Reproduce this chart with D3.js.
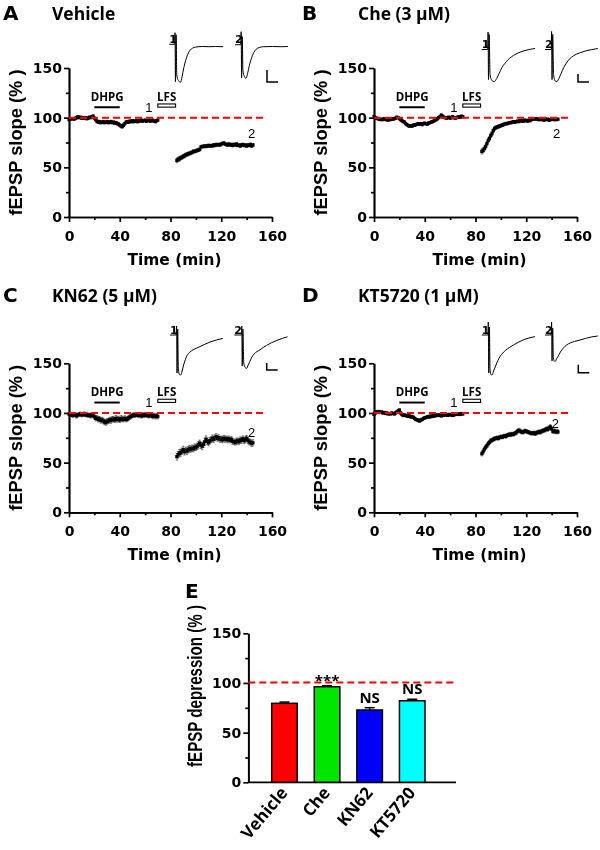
<!DOCTYPE html>
<html><head><meta charset="utf-8">
<script src="https://cdn.jsdelivr.net/npm/d3@7"></script>
<style>body{margin:0;background:#fff}svg{display:block;will-change:transform}</style>
</head><body>
<svg id="c" width="600" height="850"></svg>
<script>
// ---------------- DATA ----------------
const xTicks = [0, 40, 80, 120, 160];
const xMinor = [20, 60, 100, 140];
const yTicks = [0, 50, 100, 150];
const yMinor = [25, 75, 125];
const dhpgWindow = [20, 40];
const lfsWindow = [70, 84];
const refLineRange = [0, 155];
const baseStart = 0;   // min, 1-min sampling
const postStart = 85;  // min, 1-min sampling

const vehicleBase = [98,98.5,99,99,98.5,99.5,100,101,100,100.5, 99.5,100,99.5,100,99,99.5,100.5,100,101,101.5, 99.5,98,96.5,95.5,96,95,95.5,96,95,95.5, 96,95,95.5,96,95,95.5,94.5,95,94,93.5, 92.5,91.5,91,92.5,94,95.5,96,95.5,96.5,96, 97,96,96.5,97,96,97,96.5,97.5,96.5,97, 97.5,96.5,97,97.5,96.5,97,97.5,96.5,96,97, 97.5];
const vehiclePost = [57,58,58.5,59.5,60,61,61.5,62.5,63,63.5, 64,64.5,65,66,66,66.5,67,67.5,68,70.5, 71,71,71.5,71,71.5,72,71.5,72,71.5,72.5, 72,73,72.5,73,72.5,73.5,74,74.5,73.5,73, 72.5,73.5,72.5,73,72,73,72.5,73.5,72,72.5, 71.5,72.5,73,72,72.5,71.5,72.5,72,73,71.5, 72.5];
const vehicleBaseSem = [1.2,1.0,0.9,1.1,1.0,0.9,1.2,1.1,1.0,0.9, 1.0,1.1,0.9,1.0,1.2,1.0,0.9,1.1,1.2,1.3, 1.1,1.2,1.3,1.2,1.4,1.3,1.2,1.4,1.3,1.2, 1.4,1.3,1.5,1.4,1.3,1.4,1.5,1.4,1.6,1.5, 1.6,1.7,1.6,1.5,1.4,1.3,1.4,1.2,1.3,1.2, 1.1,1.2,1.3,1.1,1.2,1.0,1.1,1.2,1.0,1.1, 1.2,1.0,1.1,1.2,1.0,1.1,0.9,1.0,1.1,1.2, 1.0];
const vehiclePostSem = [2.4,2.2,2.3,2.0,2.1,1.9,2.0,1.8,1.9,1.8, 1.7,1.8,1.6,1.7,1.6,1.5,1.6,1.5,1.6,1.4, 1.5,1.4,1.3,1.4,1.3,1.4,1.3,1.2,1.3,1.4, 1.3,1.2,1.3,1.4,1.3,1.2,1.3,1.4,1.2,1.3, 1.4,1.3,1.2,1.4,1.3,1.5,1.3,1.4,1.2,1.3, 1.4,1.5,1.3,1.4,1.3,1.5,1.4,1.3,1.5,1.4, 1.5];

const cheBase = [101,100,99.5,99,98.5,98,98.5,98,99,98.5, 98,97.5,98.5,98,99,98.5,99,99.5,100.5,100, 99,98,97,96,95.5,94,93,92,91.5,92, 91.5,92.5,92.5,93,93.5,94,93.5,94,93,94, 94.5,94,93.5,94.5,95,95.5,96,96.5,97.5,98, 99,100,101,102.5,101.5,100.5,100,99.5,100,100.5, 99.5,100,101,100,99.5,100,100.5,101,100.5,101.5, 101];
const chePost = [66,67,69,71,74,77,79,82,84,87, 89,90,90.5,91,91.5,92,92.5,93,93.5,94, 94,94.5,95,95,95.5,96,95.5,96,96.5,96, 97,96.5,97,96.5,97.5,97,96.5,97.5,97,98, 98.5,99,98.5,99,98.5,98,98.5,98,98.5,97.5, 98.5,98,98.5,97.5,98,99,98.5,98,98.5,98, 98.5];
const cheBaseSem = [0.9,1.0,0.8,0.9,1.0,0.8,0.9,1.0,0.9,0.8, 1.0,0.9,0.8,1.0,0.9,0.8,0.9,1.0,0.9,1.1, 1.0,1.1,1.2,1.1,1.2,1.3,1.2,1.1,1.3,1.2, 1.1,1.2,1.3,1.2,1.1,1.2,1.0,1.1,1.2,1.1, 1.0,1.1,1.2,1.0,1.1,1.0,1.1,0.9,1.0,1.1, 1.2,1.0,1.1,1.3,1.1,1.0,0.9,1.0,1.1,0.9, 1.0,0.9,1.1,1.0,0.9,1.0,1.1,0.9,1.0,1.1, 1.0];
const chePostSem = [2.6,2.4,2.5,2.3,2.2,2.4,2.1,2.0,2.2,1.9, 1.8,1.7,1.6,1.7,1.5,1.6,1.4,1.5,1.3,1.4, 1.3,1.2,1.3,1.2,1.1,1.2,1.1,1.2,1.0,1.1, 1.2,1.0,1.1,1.0,1.1,1.0,0.9,1.0,1.1,1.0, 0.9,1.0,1.1,0.9,1.0,1.1,1.0,0.9,1.0,1.1, 1.0,0.9,1.0,1.1,1.0,0.9,1.0,1.1,1.0,0.9, 1.0];

const kn62Base = [99,98,98.5,97.5,98,98.5,97,98,98.5,99, 98,98.5,99,98,98.5,97.5,98,97,98.5,97.5, 96,94.5,95,93.5,94,92.5,93,92,91,90.5, 91.5,92,93,92.5,93.5,94,93,94.5,93.5,94, 93,94.5,94,93.5,94.5,93.5,94,95,96,96.5, 97.5,98,97.5,98.5,98,97.5,98.5,97,98,97.5, 98.5,97.5,98,97,98,97.5,96.5,97.5,96.5,97, 96.5];
const kn62Post = [56,58,59.5,60,61.5,63,61,62.5,61.5,63, 64,63.5,64.5,64,65.5,65,66.5,68,69.5,67.5, 66.5,68.5,71,73.5,71.5,70,72,73,74.5,73.5, 75,76,74.5,75,73.5,74,73,74.5,73.5,74, 73,74,72.5,73.5,71.5,71,70.5,71.5,72,71, 73,72.5,74,72,73.5,74.5,72.5,71,70.5,69.5, 70];
const kn62BaseSem = [1.6,1.8,1.7,2.0,1.9,1.8,2.1,1.9,2.0,1.8, 1.9,2.1,2.0,1.8,2.2,2.0,1.9,2.1,2.0,2.2, 2.3,2.5,2.4,2.6,2.5,2.7,2.6,2.8,2.7,2.9, 2.8,2.6,2.7,2.9,2.8,2.6,2.7,2.9,2.8,2.7, 2.6,2.8,2.7,2.5,2.6,2.4,2.5,2.3,2.4,2.2, 2.1,2.3,2.2,2.0,2.1,2.2,2.0,2.1,2.3,2.2, 2.1,2.0,2.2,2.1,2.3,2.2,2.4,2.3,2.5,2.4, 2.5];
const kn62PostSem = [3.5,3.3,3.6,3.4,3.2,3.5,3.3,3.1,3.4,3.2, 3.3,3.0,3.2,3.1,3.3,3.0,3.2,3.4,3.1,3.3, 3.5,3.2,3.6,3.4,3.3,3.1,3.2,3.0,3.3,3.1, 3.0,3.2,2.9,3.1,3.0,2.8,3.0,2.9,3.1,2.8, 3.0,2.9,2.7,2.9,3.0,2.8,2.9,3.1,2.8,3.0, 2.9,3.1,2.8,3.0,3.2,2.9,3.1,3.0,2.9,3.1, 3.0];

const kt5720Base = [98.5,100,101,101.5,101,100.5,101,100,100.5,99.5, 100,99,99.5,99,100,99.5,99,100,101,102, 103,100,98.5,97.5,98,97.5,97,96.5,97,96, 96.5,95.5,94.5,93.5,93,92.5,92,93,93.5,94.5, 95,95.5,96,96.5,96,97,96.5,97.5,97,97.5, 98,97.5,98,97,98,97.5,98.5,98,97.5,98.5, 98,98.5,97.5,98,98.5,99,98.5,99,98.5,99.5, 99];
const kt5720Post = [59,61,63.5,65.5,67,69,70.5,72,72.5,73.5, 74,74.5,75,74.5,75.5,76,75.5,76.5,77,76.5, 77.5,78,78.5,78,79,78.5,79.5,80,81.5,82.5, 82,81,80.5,81,82,81.5,81,80.5,80,79.5, 79.5,80,79,80,80.5,81,80.5,81.5,82,82.5, 83,84,83.5,85,86,84,81.5,82,81,81.5, 81];
const kt5720BaseSem = [1.0,1.1,0.9,1.0,1.2,1.1,1.0,0.9,1.1,1.0, 1.2,1.0,1.1,0.9,1.0,1.1,1.0,1.2,1.1,1.3, 1.2,1.1,1.2,1.3,1.1,1.2,1.3,1.2,1.4,1.3, 1.2,1.3,1.4,1.3,1.5,1.4,1.3,1.4,1.3,1.2, 1.3,1.2,1.1,1.2,1.3,1.1,1.2,1.0,1.1,1.2, 1.0,1.1,1.2,1.0,1.1,1.0,0.9,1.1,1.0,1.2, 1.1,1.0,1.1,0.9,1.0,1.1,1.0,1.2,1.1,1.0, 1.1];
const kt5720PostSem = [2.2,2.4,2.1,2.3,2.0,2.2,1.9,2.1,1.8,2.0, 1.9,1.7,1.8,1.9,1.7,1.8,1.6,1.8,1.7,1.9, 1.8,1.7,1.9,1.8,1.6,1.8,1.7,1.9,1.8,2.0, 1.9,1.8,1.7,1.9,1.8,1.7,1.8,1.6,1.8,1.7, 1.9,1.8,1.7,1.9,1.8,2.0,1.9,1.8,2.0,1.9, 2.1,2.0,1.9,2.1,2.2,2.0,2.1,1.9,2.0,2.1, 2.0];

// sample fEPSP traces: [ms, mV]
const vehicleTrace1 = [[0,0.12],[2.4,0.12],[2.6,0.7],[2.8,-1.75],[3.1,0.6],[3.4,-1.4],[4.2,-1.7],[5.1,-1.78],[5.8,-1.5],[6.6,-1.05],[7.4,-0.7],[8.4,-0.38],[9.4,-0.18],[10.6,-0.07],[12,-0.02],[15,0.01],[18,0],[21,0.01],[24.5,0]];
const vehicleTrace2 = [[0,0.1],[2.6,0.1],[2.8,0.75],[3.0,-1.55],[3.3,0.5],[3.6,-1.2],[4.3,-1.5],[5.0,-1.58],[5.7,-1.35],[6.5,-0.95],[7.4,-0.6],[8.5,-0.3],[9.6,-0.13],[11,-0.04],[13,0],[17,0.01],[21,0],[24,0.01]];
const cheTrace1 = [[0,-0.05],[2.7,-0.05],[2.9,0.82],[3.1,-1.55],[3.4,0.7],[3.8,-1.3],[4.8,-1.62],[5.8,-1.65],[6.8,-1.5],[7.9,-1.25],[9.2,-0.95],[10.5,-0.75],[11.8,-0.58],[13.5,-0.42],[15.5,-0.28],[17.5,-0.18],[19.7,-0.1],[22,-0.04],[24.2,0]];
const cheTrace2 = [[0,-0.05],[2.8,-0.05],[3.0,0.85],[3.2,-1.55],[3.5,0.7],[3.9,-1.3],[4.6,-1.62],[5.4,-1.65],[6.3,-1.5],[7.3,-1.25],[8.5,-0.95],[9.8,-0.72],[11.2,-0.52],[13,-0.36],[15.8,-0.22],[18.5,-0.12],[21,-0.06],[24,0]];
const kn62Trace1 = [[0,0],[2.8,0],[3.0,0.45],[3.2,-1.9],[3.5,0.3],[3.8,-1.7],[4.3,-1.98],[4.9,-2.0],[5.5,-1.8],[6.2,-1.5],[7.0,-1.22],[7.8,-1.02],[9,-0.86],[10.5,-0.74],[12,-0.66],[13.6,-0.58],[15.5,-0.48],[18.2,-0.35],[21,-0.25],[24,-0.17]];
const kn62Trace2 = [[0,0],[3.2,0],[3.4,0.45],[3.6,-1.55],[3.9,0.3],[4.3,-1.4],[4.9,-1.62],[5.6,-1.67],[6.3,-1.5],[7.1,-1.32],[8.0,-1.1],[9,-0.95],[10.3,-0.83],[11.7,-0.74],[13.2,-0.62],[14.7,-0.52],[17,-0.38],[19.4,-0.27],[22,-0.16],[24.2,-0.09]];
const kt5720Trace1 = [[0,0],[2.8,0],[3.0,0.65],[3.2,-1.9],[3.5,0.4],[3.8,-1.75],[4.2,-1.98],[4.7,-2.0],[5.4,-1.8],[6.5,-1.5],[7.4,-1.27],[8.3,-1.08],[9.6,-0.9],[11,-0.75],[12.7,-0.62],[14.4,-0.5],[16.5,-0.37],[18.8,-0.25],[21.5,-0.15],[24.2,-0.08]];
const kt5720Trace2 = [[0,0],[2.8,0],[3.0,0.65],[3.2,-1.3],[3.5,0.35],[3.8,-1.15],[4.2,-1.3],[4.6,-1.33],[5.2,-1.2],[5.9,-1.08],[7,-0.85],[8.3,-0.66],[9.8,-0.5],[11.4,-0.4],[13.5,-0.32],[15.9,-0.25],[18.5,-0.17],[21,-0.1],[24,-0.05]];
const scaleBarMs = 5;
const scaleBarMV = [0.6, 0.4, 0.35, 0.4];

const panelLetters = ["A", "B", "C", "D"];
const panelTitles = ["Vehicle", "Che (3 μM)", "KN62 (5 μM)", "KT5720 (1 μM)"];
const label1Pos = [63, 106];               // [min, %]
const label2Pos = [[144, 80], [144, 80], [144, 76], [143, 84.5]];

// Panel E
const groups = ["Vehicle", "Che", "KN62", "KT5720"];
const depression = [79.5, 96.2, 72.8, 82.1];
const depressionSem = [1.3, 1.0, 2.3, 1.5];
const significance = ["", "***", "NS", "NS"];
const barColors = ["#ff0000", "#00e600", "#0000ff", "#00ffff"];

// ---------------- LAYOUT ----------------
const layout = [
  {left:69,  right:272, top:68,    bottom:217,   letter:[3,20],   title:[52,20],   t1:[169.3,46.7], t2:[235,46.7],   sb:[267,82]},
  {left:374, right:577, top:68,    bottom:217,   letter:[302,20], title:[358,20],  t1:[481.7,48.5], t2:[545,48.5],   sb:[578,82]},
  {left:69,  right:272, top:363.3, bottom:512.3, letter:[3,302],  title:[52,302],  t1:[170,335],    t2:[234.3,335],  sb:[266.7,370]},
  {left:374, right:577, top:363.3, bottom:512.3, letter:[302,302],title:[358,302], t1:[481.7,335],  t2:[545,335],    sb:[578.3,372.7]}
];
const panels = [
  {base:vehicleBase, baseSem:vehicleBaseSem, post:vehiclePost, postSem:vehiclePostSem, tr1:vehicleTrace1, tr2:vehicleTrace2},
  {base:cheBase, baseSem:cheBaseSem, post:chePost, postSem:chePostSem, tr1:cheTrace1, tr2:cheTrace2},
  {base:kn62Base, baseSem:kn62BaseSem, post:kn62Post, postSem:kn62PostSem, tr1:kn62Trace1, tr2:kn62Trace2},
  {base:kt5720Base, baseSem:kt5720BaseSem, post:kt5720Post, postSem:kt5720PostSem, tr1:kt5720Trace1, tr2:kt5720Trace2}
];

const NUM = "'DejaVu Sans', sans-serif";
const ROT = "'Liberation Sans', Arial, sans-serif";
const HUM = "'Open Sans', sans-serif";
const svg = d3.select("#c");
const pxPerMs = 2.2, pxPerMV = 20;

function styleAxis(sel, w) {
  sel.select(".domain").attr("stroke", "#000").attr("stroke-width", w);
  sel.selectAll(".tick line").attr("stroke", "#000").attr("stroke-width", w);
  sel.selectAll(".tick text").attr("font-family", NUM).attr("font-weight", "bold").attr("font-size", 14).attr("fill", "#000");
}

function drawPanel(i) {
  const P = panels[i], L = layout[i];
  const g = svg.append("g");
  const x = d3.scaleLinear().domain([0, 160]).range([L.left, L.right]);
  const y = d3.scaleLinear().domain([0, 150]).range([L.bottom, L.top]);

  // axes
  g.append("g").attr("transform", `translate(0,${L.bottom})`)
    .call(d3.axisBottom(x).tickValues(xMinor).tickSize(3).tickSizeOuter(0).tickFormat(""))
    .call(s => styleAxis(s, 1.7));
  g.append("g").attr("transform", `translate(0,${L.bottom})`)
    .call(d3.axisBottom(x).tickValues(xTicks).tickSize(5).tickSizeOuter(0).tickPadding(9))
    .call(s => styleAxis(s, 1.7));
  g.append("g").attr("transform", `translate(${L.left},0)`)
    .call(d3.axisLeft(y).tickValues(yMinor).tickSize(3).tickSizeOuter(0).tickFormat(""))
    .call(s => styleAxis(s, 1.7));
  g.append("g").attr("transform", `translate(${L.left},0)`)
    .call(d3.axisLeft(y).tickValues(yTicks).tickSize(5).tickSizeOuter(0).tickPadding(2))
    .call(s => styleAxis(s, 1.7));

  // axis titles
  g.append("text").attr("x", (L.left + L.right) / 2 + 4).attr("y", L.bottom + 48)
    .attr("text-anchor", "middle").attr("font-family", NUM).attr("font-weight", "bold").attr("font-size", 15.5)
    .attr("textLength", 94).attr("lengthAdjust", "spacingAndGlyphs")
    .text("Time (min)");
  g.append("text").attr("transform", `translate(${L.left - 53.5},${(L.top + L.bottom) / 2}) rotate(-90)`)
    .attr("text-anchor", "middle").attr("dominant-baseline", "central")
    .attr("font-family", ROT).attr("font-weight", "bold").attr("font-size", 19)
    .attr("textLength", 146).attr("lengthAdjust", "spacingAndGlyphs")
    .text("fEPSP slope (% )");

  // panel letter + title
  g.append("text").attr("x", L.letter[0]).attr("y", L.letter[1]).attr("font-family", NUM).attr("font-weight", "bold").attr("font-size", 20).text(panelLetters[i]);
  g.append("text").attr("x", L.title[0]).attr("y", L.title[1]).attr("font-family", HUM).attr("font-weight", "bold").attr("font-size", 17.5).text(panelTitles[i]);

  // data points
  const pts = P.base.map((v, k) => ({t: baseStart + k, v, s: P.baseSem[k]}))
    .concat(P.post.map((v, k) => ({t: postStart + k, v, s: P.postSem[k]})));
  const eb = g.append("g").attr("stroke", "#444").attr("stroke-width", 0.7);
  pts.forEach(d => {
    eb.append("line").attr("x1", x(d.t)).attr("x2", x(d.t)).attr("y1", y(d.v - d.s)).attr("y2", y(d.v + d.s));
    eb.append("line").attr("x1", x(d.t) - 1.2).attr("x2", x(d.t) + 1.2).attr("y1", y(d.v + d.s)).attr("y2", y(d.v + d.s));
    eb.append("line").attr("x1", x(d.t) - 1.2).attr("x2", x(d.t) + 1.2).attr("y1", y(d.v - d.s)).attr("y2", y(d.v - d.s));
  });
  g.append("g").selectAll("rect").data(pts).join("rect")
    .attr("x", d => x(d.t) - 1.6).attr("y", d => y(d.v) - 1.6).attr("width", 3.2).attr("height", 3.2).attr("fill", "#000");

  // reference line
  g.append("line").attr("x1", x(refLineRange[0])).attr("x2", x(refLineRange[1])).attr("y1", y(100)).attr("y2", y(100))
    .attr("stroke", "#ff0000").attr("stroke-width", 2).attr("stroke-dasharray", "7,4");

  // DHPG bar + LFS box
  g.append("line").attr("x1", x(dhpgWindow[0])).attr("x2", x(dhpgWindow[1])).attr("y1", y(110.5)).attr("y2", y(110.5))
    .attr("stroke", "#000").attr("stroke-width", 2);
  g.append("text").attr("x", x((dhpgWindow[0] + dhpgWindow[1]) / 2)).attr("y", y(117)).attr("text-anchor", "middle")
    .attr("font-family", HUM).attr("font-weight", "bold").attr("font-size", 11.5).text("DHPG");
  g.append("rect").attr("x", x(lfsWindow[0])).attr("y", y(113.8)).attr("width", x(lfsWindow[1]) - x(lfsWindow[0])).attr("height", y(110.6) - y(113.8))
    .attr("fill", "#fff").attr("stroke", "#000").attr("stroke-width", 1.1);
  g.append("text").attr("x", x((lfsWindow[0] + lfsWindow[1]) / 2)).attr("y", y(116.8)).attr("text-anchor", "middle")
    .attr("font-family", HUM).attr("font-weight", "bold").attr("font-size", 11.5).text("LFS");
  g.append("text").attr("x", x(label1Pos[0])).attr("y", y(label1Pos[1])).attr("text-anchor", "middle")
    .attr("font-family", ROT).attr("font-size", 13).attr("fill", "#000").text("1");
  g.append("text").attr("x", x(label2Pos[i][0])).attr("y", y(label2Pos[i][1])).attr("text-anchor", "middle")
    .attr("font-family", ROT).attr("font-size", 13).attr("fill", "#000").text("2");

  // traces
  [[P.tr1, L.t1, "1"], [P.tr2, L.t2, "2"]].forEach(([tr, o, lab]) => {
    const tx = d3.scaleLinear().domain([0, 1]).range([o[0], o[0] + pxPerMs]);
    const ty = d3.scaleLinear().domain([0, 1]).range([o[1], o[1] - pxPerMV]);
    g.append("path").attr("d", d3.line().x(d => tx(d[0])).y(d => ty(d[1])).curve(d3.curveMonotoneX)(tr))
      .attr("fill", "none").attr("stroke", "#000").attr("stroke-width", 1);
    g.append("text").attr("x", tx(0)).attr("y", ty(tr[0][1]) - 1.5).attr("font-family", NUM).attr("font-weight", "bold")
      .attr("font-size", 11).text(lab);
  });
  // scale bar
  const sx = d3.scaleLinear().domain([0, 1]).range([L.sb[0], L.sb[0] + pxPerMs]);
  const sy = d3.scaleLinear().domain([0, 1]).range([L.sb[1], L.sb[1] - pxPerMV]);
  g.append("path").attr("d", `M${sx(0)},${sy(scaleBarMV[i])}L${sx(0)},${sy(0)}L${sx(scaleBarMs)},${sy(0)}`)
    .attr("fill", "none").attr("stroke", "#000").attr("stroke-width", 1.5);
}
[0, 1, 2, 3].forEach(drawPanel);

// ---------------- PANEL E ----------------
(function () {
  const E = {axisX: 248.3, axisRight: 456, top: 633.3, bottom: 782.3};
  const g = svg.append("g");
  const x = d3.scaleBand().domain(groups).range([271.7, 425]).paddingInner(0.4).paddingOuter(0);
  const y = d3.scaleLinear().domain([0, 150]).range([E.bottom, E.top]);
  g.append("g").attr("transform", `translate(${E.axisX},0)`)
    .call(d3.axisLeft(y).tickValues(yMinor).tickSize(3).tickSizeOuter(0).tickFormat(""))
    .call(s => styleAxis(s, 1.7));
  g.append("g").attr("transform", `translate(${E.axisX},0)`)
    .call(d3.axisLeft(y).tickValues(yTicks).tickSize(5).tickSizeOuter(0).tickPadding(2))
    .call(s => styleAxis(s, 1.7));
  g.append("line").attr("x1", E.axisX).attr("x2", E.axisRight).attr("y1", E.bottom).attr("y2", E.bottom)
    .attr("stroke", "#000").attr("stroke-width", 1.7);

  groups.forEach((grp, k) => {
    const cx = x(grp) + x.bandwidth() / 2;
    g.append("line").attr("x1", cx).attr("x2", cx).attr("y1", y(depression[k])).attr("y2", y(depression[k] + depressionSem[k]))
      .attr("stroke", "#000").attr("stroke-width", 1.5);
    g.append("line").attr("x1", cx - 5).attr("x2", cx + 5).attr("y1", y(depression[k] + depressionSem[k])).attr("y2", y(depression[k] + depressionSem[k]))
      .attr("stroke", "#000").attr("stroke-width", 1.5);
    g.append("rect").attr("x", x(grp)).attr("y", y(depression[k])).attr("width", x.bandwidth()).attr("height", y(0) - y(depression[k]))
      .attr("fill", barColors[k]).attr("stroke", "#000").attr("stroke-width", 1.5);
    if (significance[k]) {
      g.append("text").attr("x", cx).attr("y", y(depression[k] + depressionSem[k]) - (significance[k] === "***" ? 0 : 5))
        .attr("text-anchor", "middle").attr("font-family", HUM).attr("font-weight", "bold").attr("font-size", 15)
        .text(significance[k]);
    }
    g.append("text").attr("transform", `translate(${cx + 4},${E.bottom + 11}) rotate(-50)`)
      .attr("text-anchor", "end").attr("font-family", HUM).attr("font-weight", "bold").attr("font-size", 17).text(grp);
  });
  g.append("line").attr("x1", E.axisX).attr("x2", E.axisRight).attr("y1", y(100.5)).attr("y2", y(100.5))
    .attr("stroke", "#ff0000").attr("stroke-width", 2).attr("stroke-dasharray", "7,4");
  g.append("text").attr("transform", `translate(195,686) rotate(-90)`).attr("text-anchor", "middle").attr("dominant-baseline", "central")
    .attr("font-family", ROT).attr("font-weight", "bold").attr("font-size", 19.5)
    .attr("textLength", 162).attr("lengthAdjust", "spacingAndGlyphs")
    .text("fEPSP depression (% )");
  g.append("text").attr("x", 185).attr("y", 598).attr("font-family", NUM).attr("font-weight", "bold").attr("font-size", 20).text("E");
})();
</script>
</body></html>
